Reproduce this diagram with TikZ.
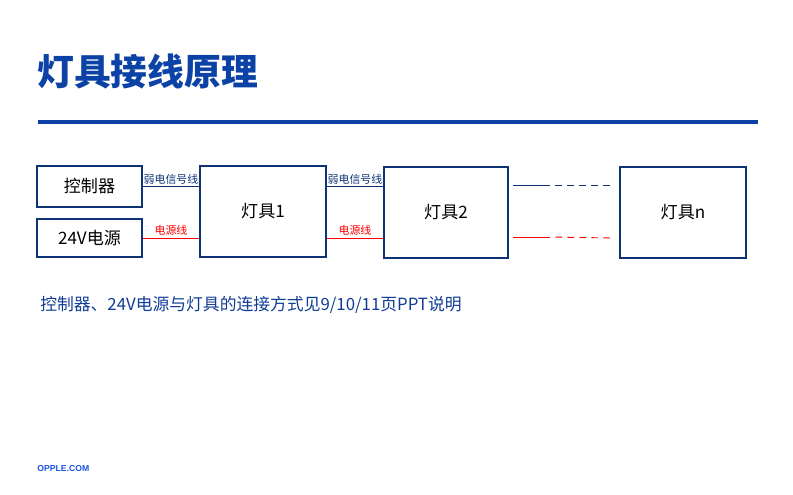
\documentclass[tikz,border=0pt]{standalone}
\usepackage{fontspec}
\setmainfont{Noto Sans CJK SC}
\newfontfamily\logofont{Liberation Sans}
\usetikzlibrary{positioning, calc}

\definecolor{titleblue}{RGB}{12,66,165}
\definecolor{boxblue}{RGB}{14,52,118}
\definecolor{noteblue}{RGB}{16,60,150}
\definecolor{logoblue}{RGB}{25,85,225}

\begin{document}
\begin{tikzpicture}[
    x=0.75pt, y=-0.75pt, % pixel grid, y pointing down
    box/.style={draw=boxblue, line width=1.5pt, inner sep=0pt, font=\fontsize{12.8}{15}\selectfont},
    lamp/.style={box, minimum width=94.5pt, minimum height=68.25pt},
    wire/.style={line width=0.7pt},
    sig/.style={wire, boxblue},
    pwr/.style={wire, red},
    wirelabel/.style={font=\fontsize{8.2}{9}\selectfont, inner sep=1.5pt, above}
]
\useasboundingbox (0,0) rectangle (793,495);

% Title and rule
\node[anchor=west, text=titleblue, font=\fontsize{27.6}{30}\selectfont\bfseries, inner sep=0pt] (title) at (37,71.5) {灯具接线原理};
\draw[titleblue, line width=2.4pt] (38,122) -- (758,122);

% Sources
\node[box, minimum width=78.75pt, minimum height=30.75pt] (ctrl) at (89.5,186.5) {控制器};
\node[box, minimum width=78.75pt, minimum height=28.5pt] (power) at (89.5,238) {24V电源};

% Lamps
\node[lamp] (lamp1) at (263,211.5) {灯具1};
\node[lamp, minimum width=93pt] (lamp2) at (446,212.5) {灯具2};
\node[lamp] (lampn) at (683,212.5) {灯具n};

% Signal and power lines
\draw[sig] (ctrl.east) -- node[wirelabel, text=boxblue] {弱电信号线} (lamp1.west |- ctrl.east);
\draw[pwr] (power.east) -- node[wirelabel, text=red] {电源线} (lamp1.west |- power.east);
\draw[sig] (lamp1.east |- ctrl.east) -- node[wirelabel, text=boxblue] {弱电信号线} (lamp2.west |- ctrl.east);
\draw[pwr] (lamp1.east |- power.east) -- node[wirelabel, text=red] {电源线} (lamp2.west |- power.east);

% Continuation towards lamp n
\coordinate (s1) at (513,185);
\coordinate (s2) at (550,185);
\coordinate (s3) at (611,185);
\coordinate (p1) at (513,237);
\coordinate (p2) at (550,237);
\coordinate (p3) at (611,238);
\draw[sig] (s1) -- (s2);
\draw[sig, dash pattern=on 5pt off 4pt, dash phase=-4pt] (s2) -- (s3);
\draw[pwr] (p1) -- (p2);
\draw[pwr, dash pattern=on 5pt off 4pt, dash phase=-4pt] (p2) -- (p3);

% Note
\node[anchor=west, text=noteblue, font=\fontsize{12.6}{15}\selectfont, inner sep=0pt] (note) at (40,305) {控制器、24V电源与灯具的连接方式见9/10/11页PPT说明};

% Footer
\node[anchor=west, text=logoblue, font=\logofont\fontsize{6.5}{8}\selectfont\bfseries, inner sep=0pt] (logo) at (37,469) {OPPLE.COM};

\end{tikzpicture}
\end{document}
